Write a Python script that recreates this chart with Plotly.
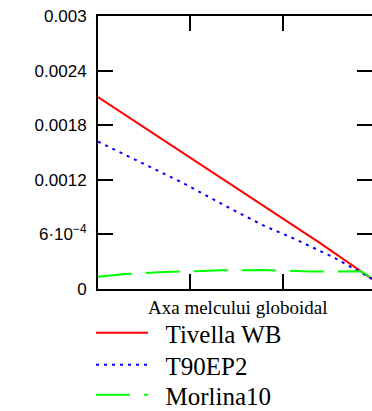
import plotly.graph_objects as go

# Data (x: position along the worm axis, 0..0.99)
x_red = [0.0, 0.2, 0.4, 0.6, 0.8, 0.99]
y_red = [0.00211, 0.00171, 0.00131, 0.00091, 0.00051, 0.00011]

x_blue = [0.0, 0.31, 0.487, 0.603, 0.704, 0.856, 0.921, 0.99]
y_blue = [0.00162, 0.00116, 0.00087, 0.00069, 0.00056, 0.00034, 0.00023, 0.00011]

x_green = [0.0, 0.1, 0.22, 0.45, 0.6, 0.77, 0.95, 0.99]
y_green = [0.000135, 0.000165, 0.000184, 0.000206, 0.000208, 0.000192, 0.000195, 0.00012]

names = ["Tivella WB", "T90EP2", "Morlina10"]
y_tickvals = [0, 0.0006, 0.0012, 0.0018, 0.0024, 0.003]
y_ticktext = ["0", "6\u00b710<sup>\u22124</sup>", "0.0012", "0.0018", "0.0024", "0.003"]
x_tickvals = [1/3, 2/3]
x_title = "Axa melcului globoidal"

serif = "Liberation Serif"
pad = "\u00a0\u00a0"
fig = go.Figure()
fig.add_trace(go.Scatter(x=x_red, y=y_red, mode="lines", name=pad + names[0],
                         legend="legend", line=dict(color="#ff0000", width=2)))
fig.add_trace(go.Scatter(x=x_blue, y=y_blue, mode="lines", name=pad + names[1],
                         legend="legend2", line=dict(color="#0000ff", width=2, dash="3px,5px")))
fig.add_trace(go.Scatter(x=x_green, y=y_green, mode="lines", name=pad + names[2],
                         legend="legend3", line=dict(color="#00ff00", width=2, dash="34px,14px")))
# invisible helper trace to carry the right-hand tick axis
fig.add_trace(go.Scatter(x=x_red, y=y_red, yaxis="y2", mode="lines",
                         line=dict(width=0), showlegend=False, hoverinfo="skip"))

axis_font = dict(family="Liberation Sans", size=17, color="black")
leg_font = dict(family=serif, size=25, color="black")


def leg(ycenter_px):
    return dict(xref="container", yref="container", x=91 / 372, y=1 - ycenter_px / 411,
                xanchor="left", yanchor="middle", font=leg_font, itemwidth=52,
                bgcolor="rgba(0,0,0,0)")


fig.update_layout(
    width=372, height=411,
    font=dict(family=serif, color="black"),
    margin=dict(l=98, r=0, t=16, b=122, autoexpand=False),
    paper_bgcolor="white", plot_bgcolor="white",
    xaxis=dict(range=[0, 0.99], tickvals=x_tickvals, showticklabels=False,
               ticks="inside", ticklen=15, tickwidth=2, tickcolor="black",
               showline=True, linewidth=2, linecolor="black", mirror="ticks",
               showgrid=False, zeroline=False),
    yaxis=dict(range=[0, 0.003], tickvals=y_tickvals, ticktext=y_ticktext,
               ticks="inside", ticklen=15, tickwidth=2, tickcolor="black",
               showline=True, linewidth=2, linecolor="black",
               showgrid=False, zeroline=False, tickfont=axis_font,
               ticklabelstandoff=6),
    yaxis2=dict(range=[0, 0.003], tickvals=y_tickvals, overlaying="y", side="right",
                ticks="inside", ticklen=15, tickwidth=2, tickcolor="black",
                showline=False, showticklabels=False, showgrid=False, zeroline=False),
    showlegend=True,
    legend=leg(333),
    legend2=leg(365),
    legend3=leg(395),
    annotations=[dict(text=x_title, xref="paper", yref="paper", x=0.51, y=0,
                      xanchor="center", yanchor="top", yshift=-6, showarrow=False,
                      font=dict(family=serif, size=19, color="black"))],
)

fig.write_html("out.html")
